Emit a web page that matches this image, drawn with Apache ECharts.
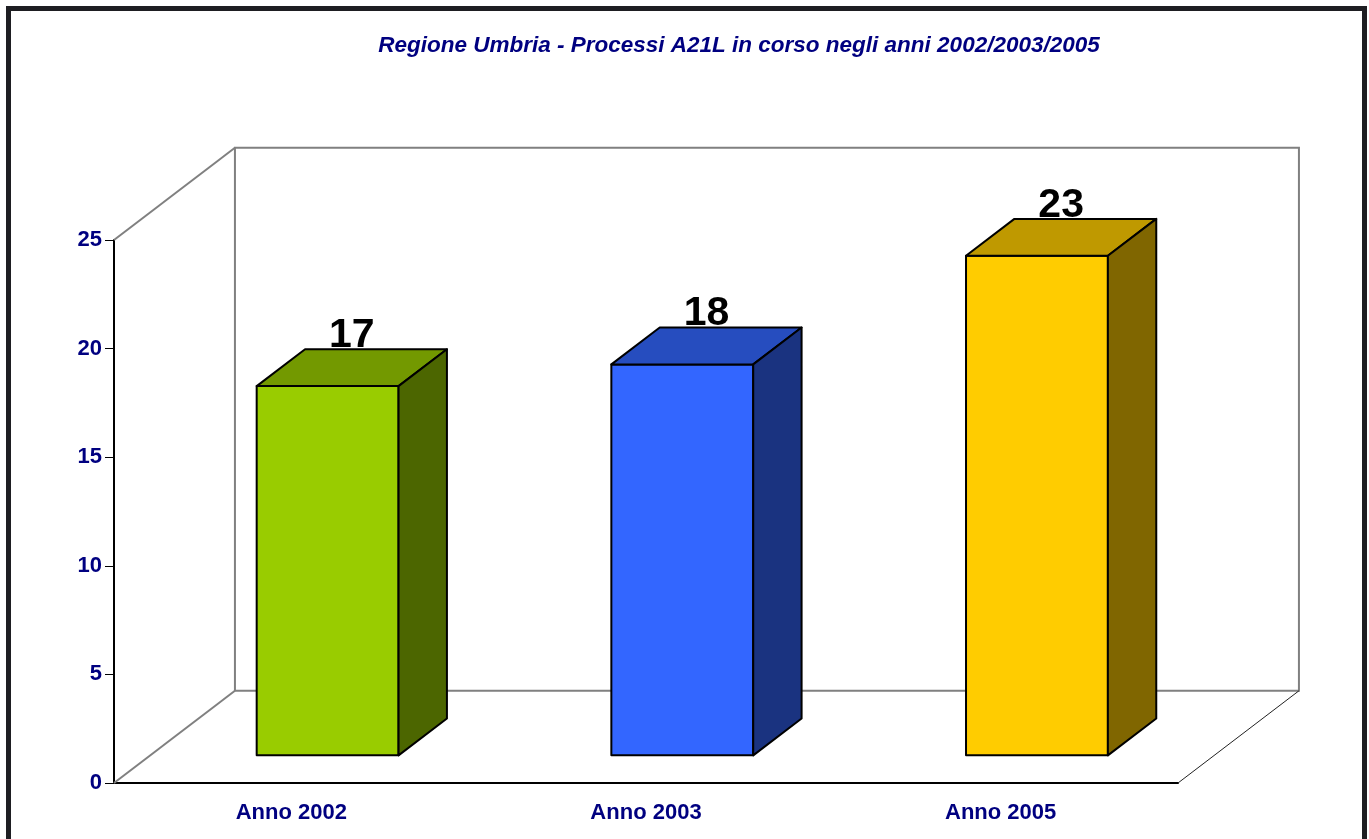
<!DOCTYPE html>
<html>
<head>
<meta charset="utf-8">
<title>Regione Umbria - Processi A21L</title>
<script src="https://cdn.jsdelivr.net/npm/echarts@6/dist/echarts.min.js"></script>
<style>
  html, body { margin: 0; padding: 0; background: #fff; }
  #chart { width: 1369px; height: 839px; }
</style>
</head>
<body>
<div id="chart"></div>
<script>
// dati
var categories = ['Anno 2002', 'Anno 2003', 'Anno 2005']
var values = [17, 18, 23]
var yTicks = [0, 5, 10, 15, 20, 25]
// colori: fronte, sopra, lato
var frontColors = ['#99cc00', '#3366ff', '#ffcc00']
var topColors = ['#739900', '#264dbf', '#bf9900']
var sideColors = ['#4c6600', '#1a3380', '#806600']

var yMax = yTicks[yTicks.length - 1]
var FONT = 'Arial, "Liberation Sans", sans-serif'

// profondita' della scena in frazioni della larghezza di una categoria
var DEPTH_X = 0.341
var DEPTH_Y = -0.26
var BAR_W = 0.4
var BAR_Z0 = 0.3
var BAR_Z1 = 0.7

var chart = echarts.init(document.getElementById('chart'))

/**
 * pareti e pavimento (una sola volta)
 */
function renderFrame (params, api) {
  var bw = api.size([1, 0])[0]
  var c0 = api.coord([0, 0])
  var cTop = api.coord([0, yMax])
  var x0 = c0[0] - bw / 2
  var x1 = x0 + bw * categories.length
  var y0 = c0[1]
  var yT = cTop[1]
  var dx = bw * DEPTH_X
  var dy = bw * DEPTH_Y
  var grey = { stroke: '#808080', lineWidth: 2, fill: null }
  return {
    type: 'group',
    children: [
      { type: 'rect', shape: { x: x0 + dx, y: yT + dy, width: x1 - x0, height: y0 - yT }, style: { stroke: '#808080', lineWidth: 2, fill: '#fff' } },
      { type: 'line', shape: { x1: x0, y1: yT, x2: x0 + dx, y2: yT + dy }, style: grey },
      { type: 'line', shape: { x1: x0, y1: y0, x2: x0 + dx, y2: y0 + dy }, style: grey },
      { type: 'line', shape: { x1: x1, y1: y0, x2: x1 + dx, y2: y0 + dy }, style: { stroke: '#222', lineWidth: 1 } }
    ]
  }
}

/**
 * barre 3D
 */
function renderBar (params, api) {
  var i = params.dataIndex
  var bw = api.size([1, 0])[0]
  var center = api.coord([api.value(0), 0])
  var topPt = api.coord([api.value(0), api.value(1)])
  var dx = bw * DEPTH_X
  var dy = bw * DEPTH_Y
  var fx = center[0] - bw * BAR_W / 2 + dx * BAR_Z0
  var fw = bw * BAR_W
  var fb = center[1] + dy * BAR_Z0
  var ft = topPt[1] + dy * BAR_Z0
  var ddx = dx * (BAR_Z1 - BAR_Z0)
  var ddy = dy * (BAR_Z1 - BAR_Z0)
  var edge = { stroke: '#000', lineWidth: 2, lineJoin: 'round' }
  return {
    type: 'group',
    children: [
      {
        type: 'rect',
        shape: { x: fx, y: ft, width: fw, height: fb - ft },
        style: Object.assign({ fill: frontColors[i] }, edge)
      },
      {
        type: 'polygon',
        shape: { points: [[fx, ft], [fx + ddx, ft + ddy], [fx + fw + ddx, ft + ddy], [fx + fw, ft]] },
        style: Object.assign({ fill: topColors[i] }, edge)
      },
      {
        type: 'polygon',
        shape: { points: [[fx + fw, ft], [fx + fw + ddx, ft + ddy], [fx + fw + ddx, fb + ddy], [fx + fw, fb]] },
        style: Object.assign({ fill: sideColors[i] }, edge)
      },
      {
        type: 'text',
        x: fx + fw / 2 + ddx / 2,
        y: ft + ddy + 7,
        style: {
          text: String(api.value(1)),
          fill: '#000',
          font: 'bold 41px ' + FONT,
          align: 'center',
          verticalAlign: 'bottom'
        }
      }
    ]
  }
}

var option = {
  backgroundColor: '#fff',
  animation: false,
  title: {
    text: 'Regione Umbria - Processi A21L in corso negli anni 2002/2003/2005',
    left: 734,
    top: 29,
    textAlign: 'center',
    textStyle: {
      color: '#000080',
      fontSize: 22.5,
      fontWeight: 'bold',
      fontStyle: 'italic',
      fontFamily: FONT
    }
  },
  graphic: [
    {
      type: 'rect',
      shape: { x: 8.5, y: 8.5, width: 1356, height: 900 },
      style: { fill: null, stroke: '#1e1e22', lineWidth: 5 },
      z: 100
    }
  ],
  grid: {
    left: 114,
    right: 191,
    top: 240,
    bottom: 56
  },
  xAxis: {
    type: 'category',
    data: categories,
    axisLine: { lineStyle: { color: '#000', width: 2 } },
    axisTick: { length: 10, lineStyle: { color: '#000', width: 1 } },
    axisLabel: {
      margin: 19,
      color: '#000080',
      fontSize: 22,
      fontWeight: 'bold',
      fontFamily: FONT
    },
    splitLine: { show: false }
  },
  yAxis: {
    type: 'value',
    min: yTicks[0],
    max: yMax,
    interval: yTicks[1] - yTicks[0],
    axisLine: { show: true, lineStyle: { color: '#000', width: 2 } },
    axisTick: { show: true, length: 9, lineStyle: { color: '#000', width: 1 } },
    axisLabel: {
      margin: 12,
      color: '#000080',
      fontSize: 22,
      fontWeight: 'bold',
      fontFamily: FONT
    },
    splitLine: { show: false }
  },
  series: [
    {
      type: 'custom',
      name: 'frame',
      z: 1,
      silent: true,
      clip: false,
      renderItem: renderFrame,
      data: [[0, 0]]
    },
    {
      type: 'custom',
      name: 'Processi A21L',
      z: 3,
      clip: false,
      renderItem: renderBar,
      encode: { x: 0, y: 1 },
      data: values.map(function (v, i) { return [i, v] })
    }
  ]
}

chart.setOption(option)
</script>
</body>
</html>
